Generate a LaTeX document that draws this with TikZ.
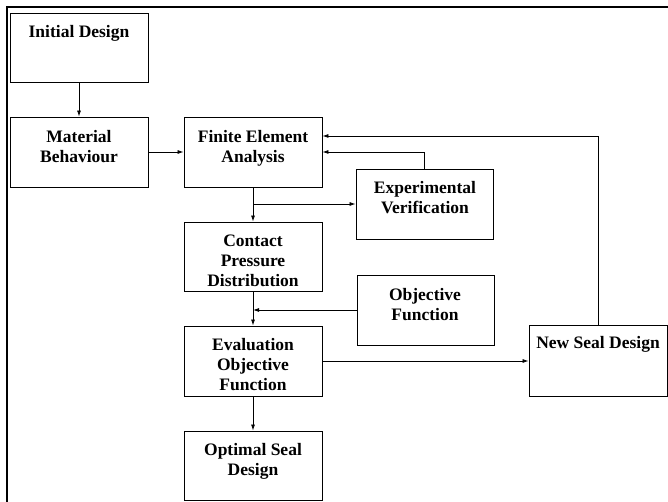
\documentclass[tikz,border=0pt]{standalone}
\usepackage{fontspec}
\setmainfont{Liberation Serif}
\usetikzlibrary{arrows.meta}
\begin{document}
\begin{tikzpicture}[x=1pt,y=-1pt,
  box/.style={draw,line width=0.9pt,rectangle,inner sep=0pt,minimum width=138pt,minimum height=70pt},
  lbl/.style={inner sep=0pt,align=center,font=\fontsize{17.5}{20}\selectfont\bfseries,anchor=north},
  conn/.style={line width=0.8pt},
  arr/.style={conn,-{Latex[length=6pt,width=4pt]}}]
\useasboundingbox (0,0) rectangle (668,502);
% outer frame (top and left edges)
\draw[line width=1.2pt] (7,502) -- (7,7) -- (668,7);
% boxes
\node[box,minimum height=69pt] (init) at (79,47.5) {};
\node[box] (mat)  at (79,152) {};
\node[box] (fea)  at (253,152) {};
\node[box,minimum width=137pt] (exp) at (424.5,204) {};
\node[box,minimum height=69pt] (cpd) at (253,256.5) {};
\node[box,minimum width=137pt] (obj) at (425.5,310) {};
\node[box] (eval) at (253,361) {};
\node[box,minimum height=71pt] (nsd) at (598,360.5) {};
\node[box,minimum height=69pt] (opt) at (253,465.5) {};
% labels
\node[lbl] (init-t) at (79,25.2) {Initial Design};
\node[lbl] (mat-t)  at (79,130.2) {Material\\Behaviour};
\node[lbl] (fea-t)  at (253,130.2) {Finite Element\\Analysis};
\node[lbl] (exp-t)  at (425,181.2) {Experimental\\Verification};
\node[lbl] (cpd-t)  at (253,235.2) {Contact\\Pressure\\Distribution};
\node[lbl] (obj-t)  at (425,288.2) {Objective\\Function};
\node[lbl] (eval-t) at (253,338.2) {Evaluation\\Objective\\Function};
\node[lbl] (nsd-t)  at (598,336.2) {New Seal Design};
\node[lbl] (opt-t)  at (253,443.2) {Optimal Seal\\Design};
% connectors
\draw[arr] (init) -- (mat);
\draw[arr] (mat) -- (fea);
\draw[arr] (fea) -- (cpd);
\draw[arr] (fea.south |- exp.west) -- (exp.west);
\draw[arr] (exp.north) |- (fea.east);
\draw[arr] (nsd.north) |- ([yshift=16pt]fea.east);
\draw[arr] (cpd) -- (eval);
\draw[arr] (obj.west) -- (cpd.south |- obj.west);
\draw[arr] (eval) -- (nsd.west |- eval.east);
\draw[arr] (eval) -- (opt);
\end{tikzpicture}
\end{document}
